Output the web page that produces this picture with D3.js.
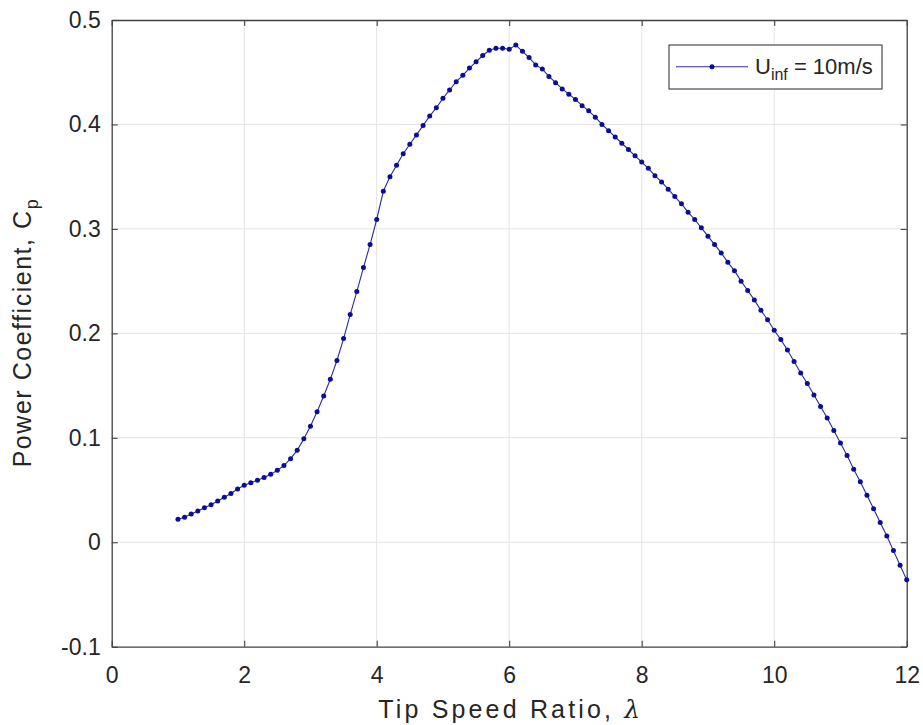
<!DOCTYPE html>
<html>
<head>
<meta charset="utf-8">
<script src="https://cdn.jsdelivr.net/npm/d3@7"></script>
<style>
  html, body { margin: 0; padding: 0; background: #ffffff; }
  svg { display: block; }
  text { font-family: "Liberation Sans", Arial, Helvetica, sans-serif; fill: #262626; }
</style>
</head>
<body>
<svg id="chart" width="923" height="725"></svg>
<script>
// ---- data ----
const lambda = [1.0,1.1,1.2,1.3,1.4,1.5,1.6,1.7,1.8,1.9,2.0,2.1,2.2,2.3,2.4,2.5,2.6,2.7,2.8,2.9,
  3.0,3.1,3.2,3.3,3.4,3.5,3.6,3.7,3.8,3.9,4.0,4.1,4.2,4.3,4.4,4.5,4.6,4.7,4.8,4.9,
  5.0,5.1,5.2,5.3,5.4,5.5,5.6,5.7,5.8,5.9,6.0,6.1,6.2,6.3,6.4,6.5,6.6,6.7,6.8,6.9,
  7.0,7.1,7.2,7.3,7.4,7.5,7.6,7.7,7.8,7.9,8.0,8.1,8.2,8.3,8.4,8.5,8.6,8.7,8.8,8.9,
  9.0,9.1,9.2,9.3,9.4,9.5,9.6,9.7,9.8,9.9,10.0,10.1,10.2,10.3,10.4,10.5,10.6,10.7,10.8,10.9,
  11.0,11.1,11.2,11.3,11.4,11.5,11.6,11.7,11.8,11.9,12.0];
const cp = [0.022,0.024,0.027,0.030,0.033,0.036,0.0395,0.043,0.0466,0.051,
  0.0546,0.057,0.0594,0.062,0.065,0.069,0.0734,0.080,0.088,0.099,
  0.111,0.125,0.140,0.156,0.174,0.195,0.218,0.240,0.263,0.285,
  0.309,0.336,0.350,0.361,0.372,0.381,0.390,0.399,0.408,0.416,
  0.425,0.433,0.441,0.447,0.454,0.460,0.466,0.471,0.473,0.473,
  0.472,0.476,0.470,0.464,0.457,0.453,0.446,0.440,0.434,0.429,
  0.424,0.418,0.413,0.407,0.400,0.394,0.388,0.382,0.376,0.370,
  0.364,0.358,0.351,0.345,0.338,0.331,0.324,0.316,0.309,0.301,
  0.293,0.285,0.277,0.268,0.260,0.250,0.241,0.232,0.222,0.213,
  0.203,0.194,0.184,0.173,0.162,0.152,0.141,0.130,0.119,0.107,
  0.095,0.083,0.070,0.058,0.045,0.032,0.019,0.006,-0.008,-0.022,-0.036];
const xTicks = [0, 2, 4, 6, 8, 10, 12];
const yTicks = [-0.1, 0, 0.1, 0.2, 0.3, 0.4, 0.5];
const xTickLabels = ["0", "2", "4", "6", "8", "10", "12"];
const yTickLabels = ["-0.1", "0", "0.1", "0.2", "0.3", "0.4", "0.5"];
const seriesName = "10m/s";

// ---- layout ----
const L = 111.7, R = 906.7, T = 20, B = 646.7;
const svg = d3.select("#chart");
const x = d3.scaleLinear().domain([0, 12]).range([L, R]);
const y = d3.scaleLinear().domain([-0.1, 0.5]).range([B, T]);
const axisColor = "#404040";
const tickFont = 23;

// grid
const grid = svg.append("g");
grid.selectAll("line.gx").data(xTicks.slice(1, -1)).join("line")
  .attr("x1", d => x(d)).attr("x2", d => x(d)).attr("y1", T).attr("y2", B)
  .attr("stroke", "#e3e3e3").attr("stroke-width", 1);
grid.selectAll("line.gy").data(yTicks.slice(1, -1)).join("line")
  .attr("y1", d => y(d)).attr("y2", d => y(d)).attr("x1", L).attr("x2", R)
  .attr("stroke", "#e3e3e3").attr("stroke-width", 1);

// axes (MATLAB style: inward ticks on all sides)
const tl = 6;
function styleAxis(g) {
  g.selectAll("path").attr("stroke", axisColor).attr("stroke-width", 1.3);
  g.selectAll("line").attr("stroke", axisColor).attr("stroke-width", 1.1);
  g.selectAll("text").attr("font-size", tickFont).attr("fill", "#262626")
    .attr("font-family", '"Liberation Sans", Arial, sans-serif');
}
const xAxisB = d3.axisBottom(x).tickValues(xTicks).tickFormat((d, i) => xTickLabels[i])
  .tickSizeInner(-tl).tickSizeOuter(0).tickPadding(20);
const xAxisT = d3.axisTop(x).tickValues(xTicks).tickFormat("")
  .tickSizeInner(-tl).tickSizeOuter(0);
const yAxisL = d3.axisLeft(y).tickValues(yTicks).tickFormat((d, i) => yTickLabels[i])
  .tickSizeInner(-tl).tickSizeOuter(0).tickPadding(11);
const yAxisR = d3.axisRight(y).tickValues(yTicks).tickFormat("")
  .tickSizeInner(-tl).tickSizeOuter(0);

svg.append("g").attr("transform", `translate(0,${B})`).call(xAxisB).call(styleAxis);
svg.append("g").attr("transform", `translate(0,${T})`).call(xAxisT).call(styleAxis);
svg.append("g").attr("transform", `translate(${L},0)`).call(yAxisL).call(styleAxis);
svg.append("g").attr("transform", `translate(${R},0)`).call(yAxisR).call(styleAxis);

// data series
const pts = lambda.map((l, i) => [l, cp[i]]);
const lineColor = "#2b2b9c", markColor = "#0c0c9a";
svg.append("path").datum(pts)
  .attr("fill", "none").attr("stroke", lineColor).attr("stroke-width", 1.1)
  .attr("d", d3.line().x(d => x(d[0])).y(d => y(d[1])));
svg.append("g").selectAll("circle").data(pts).join("circle")
  .attr("cx", d => x(d[0])).attr("cy", d => y(d[1])).attr("r", 2.5)
  .attr("fill", markColor);

// axis labels
const xl = svg.append("text")
  .attr("x", (L + R) / 2).attr("y", 718)
  .attr("text-anchor", "middle").attr("font-size", 25)
  .attr("textLength", 262).attr("lengthAdjust", "spacing");
xl.append("tspan").text("Tip Speed Ratio, ");
xl.append("tspan").attr("font-style", "italic").attr("font-family", '"DejaVu Serif", serif').text("λ");

const yl = svg.append("text")
  .attr("transform", `translate(31,${(T + B) / 2}) rotate(-90)`)
  .attr("text-anchor", "middle").attr("font-size", 25)
  .attr("textLength", 268).attr("lengthAdjust", "spacing");
yl.append("tspan").text("Power Coefficient, C");
yl.append("tspan").attr("font-size", 18).attr("dy", 7).text("p");

// legend
const lg = svg.append("g");
const lx0 = 669, ly0 = 45, lx1 = 882, ly1 = 89;
lg.append("rect").attr("x", lx0).attr("y", ly0).attr("width", lx1 - lx0).attr("height", ly1 - ly0)
  .attr("fill", "#ffffff").attr("stroke", "#262626").attr("stroke-width", 1);
const lyc = (ly0 + ly1) / 2 - 0.3;
lg.append("line").attr("x1", 676).attr("x2", 748).attr("y1", lyc).attr("y2", lyc)
  .attr("stroke", lineColor).attr("stroke-width", 1.1);
lg.append("circle").attr("cx", 712).attr("cy", lyc).attr("r", 2.5).attr("fill", markColor);
const lt = lg.append("text").attr("x", 755).attr("y", lyc + 7).attr("font-size", 22);
lt.append("tspan").text("U");
lt.append("tspan").attr("font-size", 16).attr("dy", 6).text("inf");
lt.append("tspan").attr("dy", -6).text(" = " + seriesName);
</script>
</body>
</html>
